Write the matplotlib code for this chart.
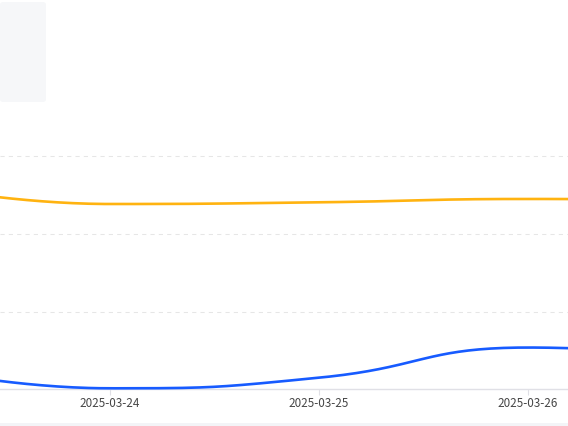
import numpy as np
import matplotlib
matplotlib.use("Agg")
import matplotlib.pyplot as plt
import matplotlib.dates as mdates
from matplotlib.patches import FancyBboxPatch, Rectangle

# данные (точки вне видимой области тоже есть)
dates = ["2025-03-23", "2025-03-24", "2025-03-25", "2025-03-26", "2025-03-27"]
orange_vals = [267, 238.7, 240.9, 245.2, 243]
blue_vals = [32, 0.9, 14.6, 53.5, 36]
tick_dates = ["2025-03-24", "2025-03-25", "2025-03-26"]

ORANGE = "#ffb310"
BLUE = "#175bff"

W, H = 568, 426
PX_DAY = 209.0      # пикселей на день
PX_UNIT = 0.775     # пикселей на единицу по y


def smooth_curve(xs, ys, sx, sy, smooth=0.5, n=60):
    # сглаживание как в echarts (безье с ограничением контрольных точек)
    P = np.column_stack([np.asarray(xs) * sx, np.asarray(ys) * sy])
    k = len(P)
    cb = P.copy()
    ca = P.copy()
    for i in range(1, k - 1):
        prev, cur, nxt = P[i - 1], P[i], P[i + 1]
        v = nxt - prev
        d0 = np.linalg.norm(cur - prev)
        d1 = np.linalg.norm(nxt - cur)
        r = d1 / (d0 + d1)
        c1 = cur + v * smooth * r
        c1 = np.minimum(c1, np.maximum(nxt, cur))
        c1 = np.maximum(c1, np.minimum(nxt, cur))
        vv = c1 - cur
        c0 = cur - vv * d0 / d1
        c0 = np.minimum(c0, np.maximum(prev, cur))
        c0 = np.maximum(c0, np.minimum(prev, cur))
        vv = cur - c0
        c1 = cur + vv * d1 / d0
        cb[i] = c0
        ca[i] = c1
    pts = []
    t = np.linspace(0, 1, n)[:, None]
    for i in range(k - 1):
        p0, p1, p2, p3 = P[i], ca[i], cb[i + 1], P[i + 1]
        seg = ((1 - t) ** 3) * p0 + 3 * ((1 - t) ** 2) * t * p1 \
            + 3 * (1 - t) * t ** 2 * p2 + t ** 3 * p3
        pts.append(seg)
    pts = np.vstack(pts)
    return pts[:, 0] / sx, pts[:, 1] / sy


x = mdates.datestr2num(dates)
ticks = mdates.datestr2num(tick_dates)

fig = plt.figure(figsize=(W / 100, H / 100), dpi=100)
fig.patch.set_facecolor("white")

# плашка легенды слева сверху
fig.patches.append(FancyBboxPatch((0 / W, 1 - 102 / H), 46 / W, 100 / H,
                                  boxstyle="round,pad=0,rounding_size=0.006",
                                  transform=fig.transFigure, facecolor="#f6f7f9",
                                  edgecolor="none", zorder=0))
# полоска внизу (слайдер)
fig.patches.append(Rectangle((0, 0), 1, 3 / H, transform=fig.transFigure,
                             facecolor="#f3f4f7", edgecolor="none"))

ax = fig.add_axes([0, 37 / H, 1, (389 - 100) / H])
x0 = ticks[0] - 110 / PX_DAY
ax.set_xlim(x0, x0 + W / PX_DAY)
ax.set_ylim(0, (389 - 100) / PX_UNIT)

for vals, col in [(orange_vals, ORANGE), (blue_vals, BLUE)]:
    cx, cy = smooth_curve(x, vals, PX_DAY, PX_UNIT)
    ax.plot(cx, cy, color=col, lw=1.9, solid_capstyle="round", zorder=3,
            clip_on=False)

ax.set_yticks([100, 200, 300])
ax.yaxis.grid(True, color="#e6e6e6", lw=0.75, linestyle=(0, (4, 4)))
ax.tick_params(axis="y", length=0, labelleft=False)

ax.set_xticks(ticks)
ax.set_xticklabels(tick_dates, family=["Noto Sans CJK SC", "DejaVu Sans"],
                   fontsize=8.4, color="#464646")
ax.tick_params(axis="x", length=4, width=0.8, color="#e0e0e6", pad=2)

for s in ["top", "left", "right"]:
    ax.spines[s].set_visible(False)
ax.spines["bottom"].set_color("#e0e0e6")
ax.spines["bottom"].set_linewidth(1)
ax.set_facecolor("none")

fig.savefig("out.png", dpi=100)
